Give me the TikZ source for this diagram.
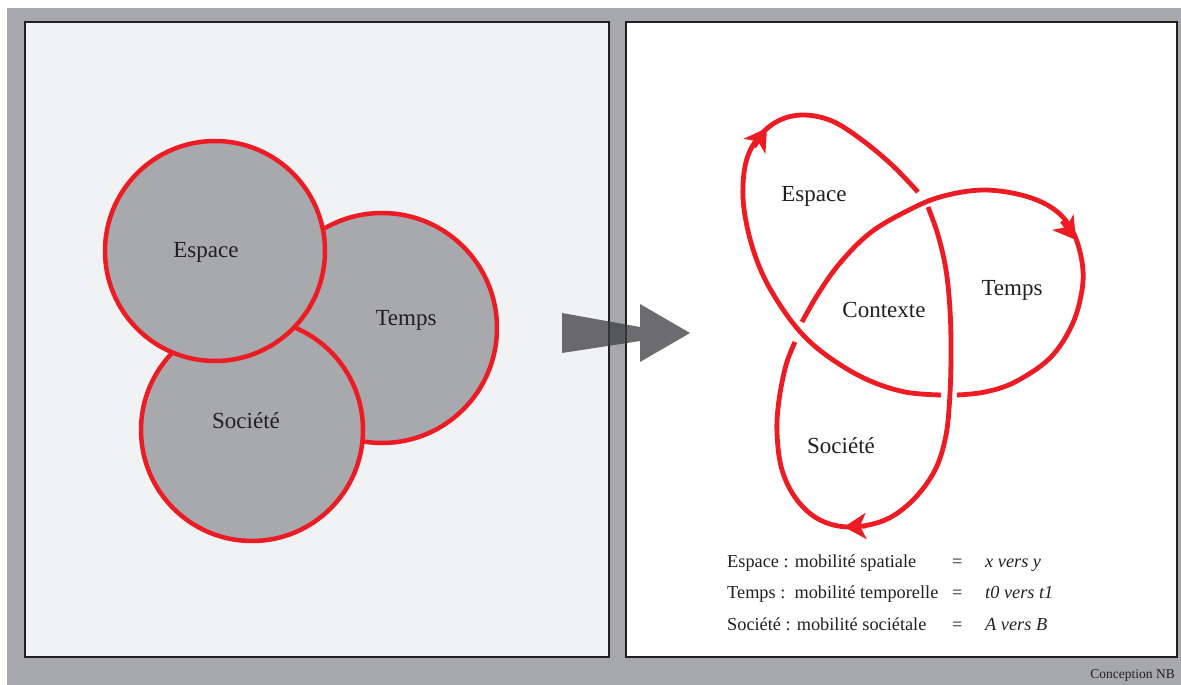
\documentclass[tikz,border=0pt]{standalone}
\usepackage{fontspec}
\setmainfont{Liberation Serif}
\usetikzlibrary{arrows.meta}
\definecolor{knotred}{HTML}{ED1C24}
\definecolor{bandgray}{HTML}{A7A8AB}
\definecolor{panelgray}{HTML}{F1F2F4}
\definecolor{circgray}{HTML}{A7A9AC}
\definecolor{inkdark}{HTML}{231F20}
\definecolor{arrowgray}{HTML}{3C3C3E}
\begin{document}
\begin{tikzpicture}[x=1pt,y=-1pt,
  panel/.style={draw=inkdark, line width=2.5pt},
  circ/.style={draw=knotred, fill=circgray, line width=4.5pt},
  strand/.style={draw=knotred, line width=4.8pt, line cap=butt},
  tipmark/.style={draw=knotred, line width=4.5pt, -{Stealth[length=22pt,width=26pt,inset=6pt]}},
  lbl/.style={text=inkdark, font=\fontsize{23}{27}\selectfont, inner sep=0pt},
  leg/.style={text=inkdark, font=\fontsize{18.3}{22}\selectfont, inner sep=0pt, anchor=base west},
]
\useasboundingbox (0,0) rectangle (1181,685);
\fill[white] (0,0) rectangle (1181,685);
\fill[bandgray] (7,8) rectangle (1181,685);
% panels
\draw[panel, fill=panelgray] (25,22) rectangle (609,657);
\draw[panel, fill=white] (626,22) rectangle (1177,657);

% left: three circles
\draw[circ] (382,328) circle[radius=115];
\draw[circ] (252,430) circle[radius=111];
\draw[circ] (215,251) circle[radius=110];
\node[lbl] (lesp) at (206,252) {Espace};
\node[lbl] (ltmp) at (406,320) {Temps};
\node[lbl] (lsoc) at (246,421) {Société};

% big arrow
\fill[arrowgray, opacity=0.75] (562,313) -- (640,327) -- (640,304) -- (690,333) -- (640,362) -- (640,341) -- (562,353) -- cycle;

% right: trefoil knot
% Espace lobe
\draw[strand] plot[smooth, tension=0.6] coordinates {(941,395) (905,392) (868,380) (833,360) (805,337) (782,308) (762,273) (749,235) (743,197) (746,162) (758,138) (778,121) (803,115) (832,121) (862,140) (892,165) (918,192)};
% Societe lobe
\draw[strand] plot[smooth, tension=0.6] coordinates {(928,207) (938,235) (946,270) (950,310) (951,350) (950,393) (946,435) (935,470) (913,500) (885,520) (850,527) (820,520) (797,500) (782,470) (777,433) (779,400) (786,365) (795,342)};
% Temps lobe
\draw[strand] plot[smooth, tension=0.6] coordinates {(802,322) (818,294) (840,263) (870,233) (905,212) (940,197) (983,190) (1025,196) (1055,210) (1073,232) (1082,262) (1082,290) (1072,325) (1050,358) (1015,382) (985,392) (957,395)};
% arrowheads
\coordinate (ea) at (754,147); \coordinate (eb) at (767,128);
\coordinate (ta) at (1062,221); \coordinate (tb) at (1076,240);
\coordinate (sa) at (866,526); \coordinate (sb) at (844,527);
\draw[tipmark] (ea) -- (eb);
\draw[tipmark] (ta) -- (tb);
\draw[tipmark] (sa) -- (sb);

\node[lbl] (resp) at (814,196) {Espace};
\node[lbl] (rctx) at (884,310) {Contexte};
\node[lbl] (rtmp) at (1012,290) {Temps};
\node[lbl] (rsoc) at (841,446) {Société};

% legend
\node[leg] (l1) at (727,567) {Espace : mobilité spatiale};
\node[leg] (l2) at (727,598) {Temps :\ \ mobilité temporelle};
\node[leg] (l3) at (727,630) {Société : mobilité sociétale};
\node[leg] (e1) at (952,567) {=};
\node[leg] (e2) at (952,598) {=};
\node[leg] (e3) at (952,630) {=};
\node[leg] (v1) at (985,567) {\itshape x vers y};
\node[leg] (v2) at (985,598) {\itshape t0 vers t1};
\node[leg] (v3) at (985,630) {\itshape A vers B};

\node[text=inkdark, font=\fontsize{13.5}{16}\selectfont, inner sep=0pt, anchor=base east] (cred) at (1175,678) {Conception NB};
\end{tikzpicture}
\end{document}
